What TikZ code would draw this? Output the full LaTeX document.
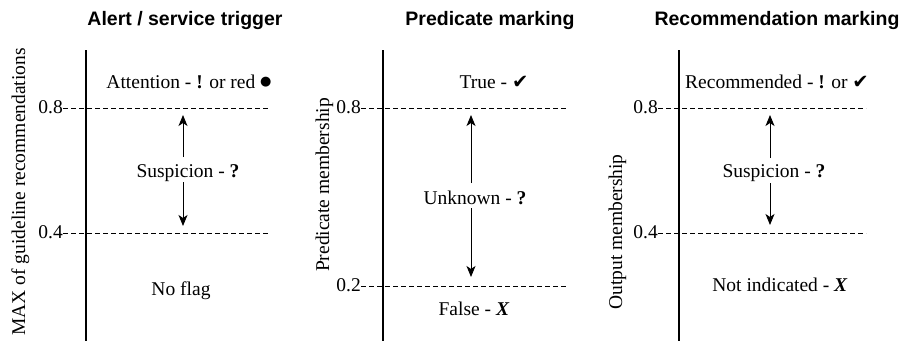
\documentclass[tikz,border=0pt]{standalone}
\usepackage{fontspec}
\setmainfont{Liberation Serif}
\newfontfamily\titlefont{Liberation Sans}
\newfontfamily\symfont{DejaVu Sans}
\usetikzlibrary{arrows.meta}
\newcommand{\chk}{{\symfont ✔}}
\newcommand{\bdot}{\raisebox{3pt}{\symfont\fontsize{13}{13}\selectfont ●}}
\begin{document}
\begin{tikzpicture}[x=1pt,y=-1pt,
  txt/.style={font=\fontsize{19.5}{22}\selectfont, inner sep=0pt, anchor=base},
  val/.style={font=\fontsize{19.5}{22}\selectfont, inner sep=0pt, anchor=base east},
  ttl/.style={font=\titlefont\bfseries\fontsize{19.5}{22}\selectfont, inner sep=0pt, anchor=base},
  ylab/.style={font=\fontsize{19.5}{22}\selectfont, inner sep=0pt, anchor=base, rotate=90},
  axisline/.style={line width=1.1pt},
  thr/.style={dash pattern=on 5pt off 3pt, line width=0.9pt},
  arr/.style={-{Stealth[length=11pt,width=9pt,inset=3pt]}, line width=1pt}]
\useasboundingbox (0,0) rectangle (903,341);

% ---------- Panel 1 ----------
\node[ttl] (t1) at (185,25) {Alert / service trigger};
\node[ylab] (y1) at (25,192) {MAX of guideline recommendations};
\draw[axisline] (86,50) -- (86,341);
\node[val] (v1a) at (63,113) {0.8};
\node[val] (v1b) at (63,238) {0.4};
\coordinate (e1a) at (270,108);
\coordinate (e1b) at (270,233);
\draw[thr] (v1a.east |- e1a) -- (e1a);
\draw[thr] (v1b.east |- e1b) -- (e1b);
\node[txt] (h1) at (189,88) {Attention - \textbf{!} or red \bdot};
\node[txt] (s1) at (188,177) {Suspicion - \textbf{?}};
\node[txt] (n1) at (181,295) {No flag};
\coordinate (p1a) at (183,157);
\coordinate (q1a) at (183,115);
\coordinate (p1b) at (183,182);
\coordinate (q1b) at (183,226);
\draw[arr] (p1a) -- (q1a);
\draw[arr] (p1b) -- (q1b);

% ---------- Panel 2 ----------
\node[ttl] (t2) at (490,25) {Predicate marking};
\node[ylab] (y2) at (329,185) {Predicate membership};
\draw[axisline] (383,50) -- (383,341);
\node[val] (v2a) at (361,113) {0.8};
\node[val] (v2b) at (361,291) {0.2};
\coordinate (e2a) at (568,108);
\coordinate (e2b) at (568,286);
\draw[thr] (v2a.east |- e2a) -- (e2a);
\draw[thr] (v2b.east |- e2b) -- (e2b);
\node[txt] (h2) at (494,88) {True - \chk};
\node[txt] (s2) at (475,204) {Unknown - \textbf{?}};
\node[txt] (n2) at (474,315) {False - \textbf{\textit{X}}};
\coordinate (p2a) at (471,183);
\coordinate (q2a) at (471,115);
\coordinate (p2b) at (471,208);
\coordinate (q2b) at (471,277);
\draw[arr] (p2a) -- (q2a);
\draw[arr] (p2b) -- (q2b);

% ---------- Panel 3 ----------
\node[ttl] (t3) at (777,25) {Recommendation marking};
\node[ylab] (y3) at (622,232) {Output membership};
\draw[axisline] (679,50) -- (679,341);
\node[val] (v3a) at (658,113) {0.8};
\node[val] (v3b) at (658,238) {0.4};
\coordinate (e3a) at (866,108);
\coordinate (e3b) at (866,233);
\draw[thr] (v3a.east |- e3a) -- (e3a);
\draw[thr] (v3b.east |- e3b) -- (e3b);
\node[txt] (h3) at (777,88) {Recommended - \textbf{!} or \chk};
\node[txt] (s3) at (774,177) {Suspicion - \textbf{?}};
\node[txt] (n3) at (780,291) {Not indicated - \textbf{\textit{X}}};
\coordinate (p3a) at (770,158);
\coordinate (q3a) at (770,115);
\coordinate (p3b) at (770,183);
\coordinate (q3b) at (770,225);
\draw[arr] (p3a) -- (q3a);
\draw[arr] (p3b) -- (q3b);
\end{tikzpicture}
\end{document}
